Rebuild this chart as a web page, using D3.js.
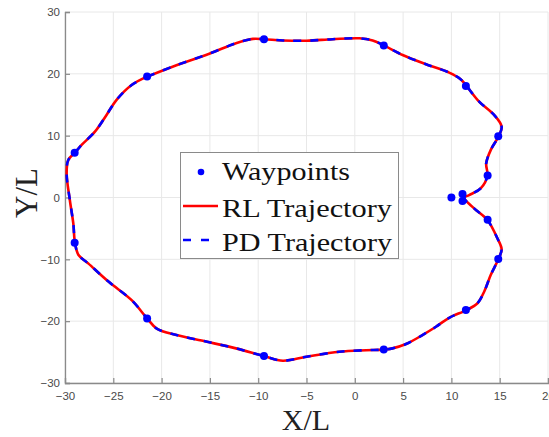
<!DOCTYPE html>
<html><head><meta charset="utf-8">
<script src="https://cdn.jsdelivr.net/npm/d3@7"></script>
<style>body{margin:0;background:#fff}svg{display:block}</style>
</head><body><svg id="c" width="549" height="437"></svg>
<script>
const xTicks = [-30,-25,-20,-15,-10,-5,0,5,10,15,20];
const yTicks = [-30,-20,-10,0,10,20,30];
const waypointsX = [-9.4,3.0,11.5,14.85,13.75,11.15,10.0,11.15,13.75,14.85,11.5,3.0,-9.4,-21.5,-29.0,-29.0,-21.5];
const waypointsY = [25.6,24.6,18.05,9.9,3.55,0.55,0.0,-0.55,-3.6,-9.95,-18.2,-24.6,-25.65,-19.55,-7.3,7.25,19.55];
const trajX = [-21.5,-18.8,-15.0,-12.3,-10.55,-9.4,-7.45,-5.0,-2.3,0.47,1.85,3.0,4.95,7.37,9.77,10.98,11.56,12.87,14.42,15.2,14.87,14.08,13.6,13.73,13.05,11.84,11.3,12.35,13.73,14.76,15.2,14.87,14.08,13.4,12.7,11.56,9.77,8.4,7.0,5.3,3.9,2.9,1.17,-1.6,-5.0,-7.45,-9.4,-12.3,-15.4,-18.46,-20.5,-21.5,-23.1,-25.5,-27.6,-28.6,-28.97,-29.14,-29.5,-29.83,-29.66,-28.97,-28.28,-26.9,-25.7,-24.66,-23.1,-21.5];
const trajY = [19.55,21.2,23.3,24.95,25.65,25.6,25.4,25.35,25.6,25.75,25.4,24.6,23.05,21.55,20.2,19.1,18.05,15.5,13.35,11.45,9.85,7.7,5.5,3.55,1.5,0.4,0.0,-1.75,-3.64,-6.6,-8.4,-9.95,-12.5,-15.2,-17.1,-18.2,-19.45,-20.9,-22.25,-23.7,-24.4,-24.6,-24.7,-24.95,-25.75,-26.4,-25.65,-24.4,-23.3,-22.25,-21.2,-19.55,-16.6,-13.6,-10.65,-9.3,-7.3,-4.2,-0.4,3.9,6.07,7.25,8.5,10.65,13.35,15.8,18.2,19.55];
const legendLabels = ["Waypoints","RL Trajectory","PD Trajectory"];

const svg = d3.select("#c");
const L=65, R=548, T=12, B=383;
const x = d3.scaleLinear().domain([-30,20]).range([L,R]);
const y = d3.scaleLinear().domain([-30,30]).range([B,T]);

// grid
const g = svg.append("g");
g.selectAll(".gx").data(xTicks).enter().append("line")
  .attr("x1",d=>x(d)).attr("x2",d=>x(d)).attr("y1",T).attr("y2",B)
  .attr("stroke","#e8e8e8").attr("stroke-width",1);
g.selectAll(".gy").data(yTicks).enter().append("line")
  .attr("y1",d=>y(d)).attr("y2",d=>y(d)).attr("x1",L).attr("x2",R)
  .attr("stroke","#e8e8e8").attr("stroke-width",1);

// axes
const ax = svg.append("g").attr("transform",`translate(0,${B})`)
  .call(d3.axisBottom(x).tickValues(xTicks).tickSize(-5).tickPadding(9).tickFormat(d3.format("d")));
const ay = svg.append("g").attr("transform",`translate(${L},0)`)
  .call(d3.axisLeft(y).tickValues(yTicks).tickSize(-5).tickPadding(5).tickFormat(d3.format("d")));
[ax,ay].forEach(a=>{
  a.select(".domain").attr("stroke","#8a8a8a").attr("stroke-width",1.3);
  a.selectAll(".tick line").attr("stroke","#8a8a8a").attr("stroke-width",1.2);
  a.selectAll("text").attr("fill","#4a4a4a").attr("font-family","Liberation Sans, Arial, sans-serif").attr("font-size","11.5px");
});

// trajectories
const pts = trajX.map((v,i)=>[v,trajY[i]]);
const line = d3.line().x(d=>x(d[0])).y(d=>y(d[1])).curve(d3.curveCatmullRom.alpha(0.5));
svg.append("path").attr("d",line(pts)).attr("fill","none").attr("stroke","#ff0000").attr("stroke-width",2.6);
svg.append("path").attr("d",line(pts)).attr("fill","none").attr("stroke","#0000ff").attr("stroke-width",2.6).attr("stroke-dasharray","8,9");

// waypoints
svg.selectAll(".wp").data(waypointsX.map((v,i)=>[v,waypointsY[i]])).enter().append("circle")
  .attr("cx",d=>x(d[0])).attr("cy",d=>y(d[1])).attr("r",4).attr("fill","#0000ff");

// axis labels
svg.append("text").attr("x",306).attr("y",430).attr("text-anchor","middle")
  .attr("font-family","Liberation Serif, Times New Roman, serif").attr("font-size","30px").attr("fill","#222").text("X/L");
svg.append("text").attr("transform","translate(37,193) rotate(-90)").attr("text-anchor","middle")
  .attr("font-family","Liberation Serif, Times New Roman, serif").attr("font-size","31px").attr("fill","#222").text("Y/L");

// legend
const lg = svg.append("g");
lg.append("rect").attr("x",180.5).attr("y",152.5).attr("width",218).attr("height",106)
  .attr("fill","#fff").attr("stroke","#8a8a8a").attr("stroke-width",1);
const rows=[180,217,251], widths=[128,170,170];
lg.append("circle").attr("cx",201).attr("cy",172).attr("r",3.3).attr("fill","#0000ff");
lg.append("line").attr("x1",183).attr("x2",218).attr("y1",206).attr("y2",206).attr("stroke","#ff0000").attr("stroke-width",2.6);
lg.append("line").attr("x1",183).attr("x2",218).attr("y1",240).attr("y2",240).attr("stroke","#0000ff").attr("stroke-width",2.6).attr("stroke-dasharray","8,10");
legendLabels.forEach((t,i)=>{
  lg.append("text").attr("x",222).attr("y",rows[i]).attr("font-family","Liberation Serif, Times New Roman, serif")
    .attr("font-size","26px").attr("fill","#111").attr("textLength",widths[i]).attr("lengthAdjust","spacingAndGlyphs").text(t);
});
</script></body></html>
